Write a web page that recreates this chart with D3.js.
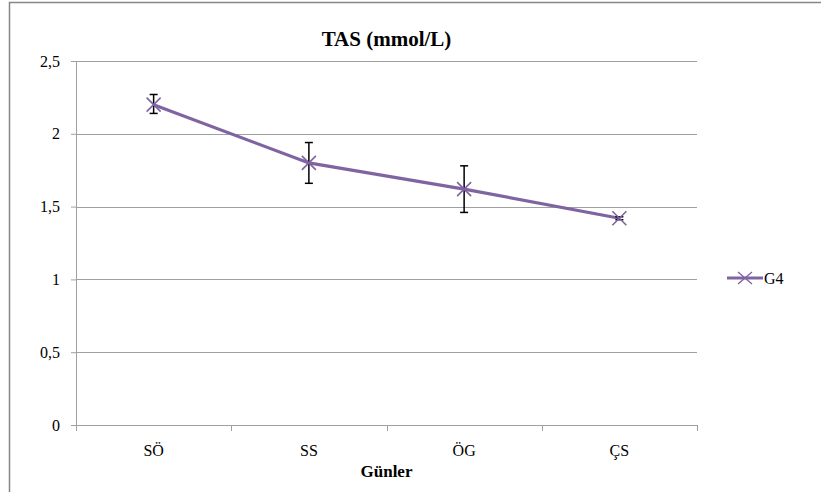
<!DOCTYPE html>
<html>
<head>
<meta charset="utf-8">
<script src="https://cdn.jsdelivr.net/npm/d3@7"></script>
<style>
  body { margin: 0; background: #fff; }
</style>
</head>
<body>
<div id="chart"></div>
<script>
var categories = ["SÖ", "SS", "ÖG", "ÇS"];
var values = [2.2, 1.8, 1.62, 1.42];
var errUp = [0.07, 0.14, 0.16, 0.01];
var errDown = [0.06, 0.14, 0.16, 0.01];
var yTicks = [0, 0.5, 1, 1.5, 2, 2.5];
var seriesName = "G4";

var width = 821, height = 492;
var margin = {top: 61, left: 76, right: 124, bottom: 67};
var plotW = width - margin.left - margin.right,
    plotH = height - margin.top - margin.bottom;
var purple = "#8064a2";
var serif = "Liberation Serif";

var svg = d3.select("#chart").append("svg")
    .attr("width", width)
    .attr("height", height)
    .attr("font-family", serif);

// outer chart frame (runs off the right and bottom edges)
svg.append("rect")
    .attr("x", 9.5).attr("y", 2.5)
    .attr("width", width + 20).attr("height", height + 20)
    .attr("fill", "none")
    .attr("stroke", "#868686")
    .attr("stroke-width", 1.5);

var g = svg.append("g")
    .attr("transform", "translate(" + margin.left + "," + margin.top + ")");

var x = d3.scaleBand().domain(categories).range([0, plotW]);
var y = d3.scaleLinear().domain([0, 2.5]).range([plotH, 0]);

// gridlines
g.selectAll(".grid")
    .data(yTicks.filter(d => d > 0))
    .enter().append("line")
    .attr("x1", 0).attr("x2", plotW)
    .attr("y1", d => Math.round(y(d)) + 0.5)
    .attr("y2", d => Math.round(y(d)) + 0.5)
    .attr("stroke", "#a0a0a0")
    .attr("stroke-width", 1);

// y axis
var yAxis = g.append("g")
    .call(d3.axisLeft(y).tickValues(yTicks).tickSize(5)
        .tickFormat(d => String(d).replace(".", ",")))
    .attr("font-family", serif)
    .attr("font-size", 16);
yAxis.select(".domain").attr("stroke", "#a0a0a0");
yAxis.selectAll(".tick line").attr("stroke", "#a0a0a0");
yAxis.selectAll("text")
    .attr("font-family", serif)
    .style("font-family", "'Liberation Serif'")
    .attr("fill", "#000")
    .attr("x", -16);

// x axis
var xAxis = g.append("g")
    .attr("transform", "translate(0," + plotH + ")")
    .call(d3.axisBottom(x).tickSize(0).tickSizeOuter(0))
    .attr("font-family", serif)
    .attr("font-size", 16);
xAxis.select(".domain").attr("stroke", "#a0a0a0");
xAxis.selectAll("text")
    .attr("font-family", serif)
    .style("font-family", "'Liberation Serif'")
    .attr("fill", "#000")
    .attr("dy", "1.75em");
// ticks between categories
g.selectAll(".xtick")
    .data(d3.range(categories.length + 1))
    .enter().append("line")
    .attr("x1", i => Math.round(i * x.step()) + 0.5)
    .attr("x2", i => Math.round(i * x.step()) + 0.5)
    .attr("y1", plotH).attr("y2", plotH + 6)
    .attr("stroke", "#a0a0a0");

// line
var pts = values.map((v, i) => ({c: categories[i], v: v, up: errUp[i], down: errDown[i]}));
g.append("path")
    .datum(pts)
    .attr("fill", "none")
    .attr("stroke", purple)
    .attr("stroke-width", 3.2)
    .attr("d", d3.line()
        .x(d => x(d.c) + x.bandwidth() / 2)
        .y(d => y(d.v)));

// error bars
var eb = g.selectAll(".err").data(pts).enter().append("g")
    .attr("transform", d => "translate(" + (x(d.c) + x.bandwidth() / 2) + ",0)");
eb.append("line")
    .attr("y1", d => y(d.v + d.up)).attr("y2", d => y(d.v - d.down))
    .attr("stroke", "#000").attr("stroke-width", 1.5);
eb.append("line")
    .attr("x1", -4).attr("x2", 4)
    .attr("y1", d => y(d.v + d.up)).attr("y2", d => y(d.v + d.up))
    .attr("stroke", "#000").attr("stroke-width", 1.5);
eb.append("line")
    .attr("x1", -4).attr("x2", 4)
    .attr("y1", d => y(d.v - d.down)).attr("y2", d => y(d.v - d.down))
    .attr("stroke", "#000").attr("stroke-width", 1.5);

// X markers
g.selectAll(".mk").data(pts).enter().append("path")
    .attr("transform", d => "translate(" + (x(d.c) + x.bandwidth() / 2) + "," + y(d.v) + ")")
    .attr("d", "M-7,-7L7,7M-7,7L7,-7")
    .attr("stroke", purple)
    .attr("stroke-width", 1.6)
    .attr("fill", "none");

// title
svg.append("text")
    .attr("x", margin.left + plotW / 2)
    .attr("y", 46)
    .attr("text-anchor", "middle")
    .attr("font-family", serif)
    .style("font-family", "'Liberation Serif'")
    .attr("font-size", 21)
    .attr("font-weight", "bold")
    .text("TAS (mmol/L)");

// x axis title
svg.append("text")
    .attr("x", margin.left + plotW / 2)
    .attr("y", 477)
    .attr("text-anchor", "middle")
    .attr("font-family", serif)
    .style("font-family", "'Liberation Serif'")
    .attr("font-size", 17)
    .attr("font-weight", "bold")
    .text("Günler");

// legend
var lg = svg.append("g").attr("transform", "translate(727,278)");
lg.append("line")
    .attr("x1", 0).attr("x2", 36)
    .attr("stroke", purple).attr("stroke-width", 3.2);
lg.append("path")
    .attr("d", "M11,-6L25,6M11,6L25,-6")
    .attr("stroke", purple).attr("stroke-width", 1.4);
lg.append("text")
    .attr("x", 37).attr("y", 6)
    .attr("font-family", serif)
    .style("font-family", "'Liberation Serif'")
    .attr("font-size", 16)
    .text(seriesName);
</script>
</body>
</html>
